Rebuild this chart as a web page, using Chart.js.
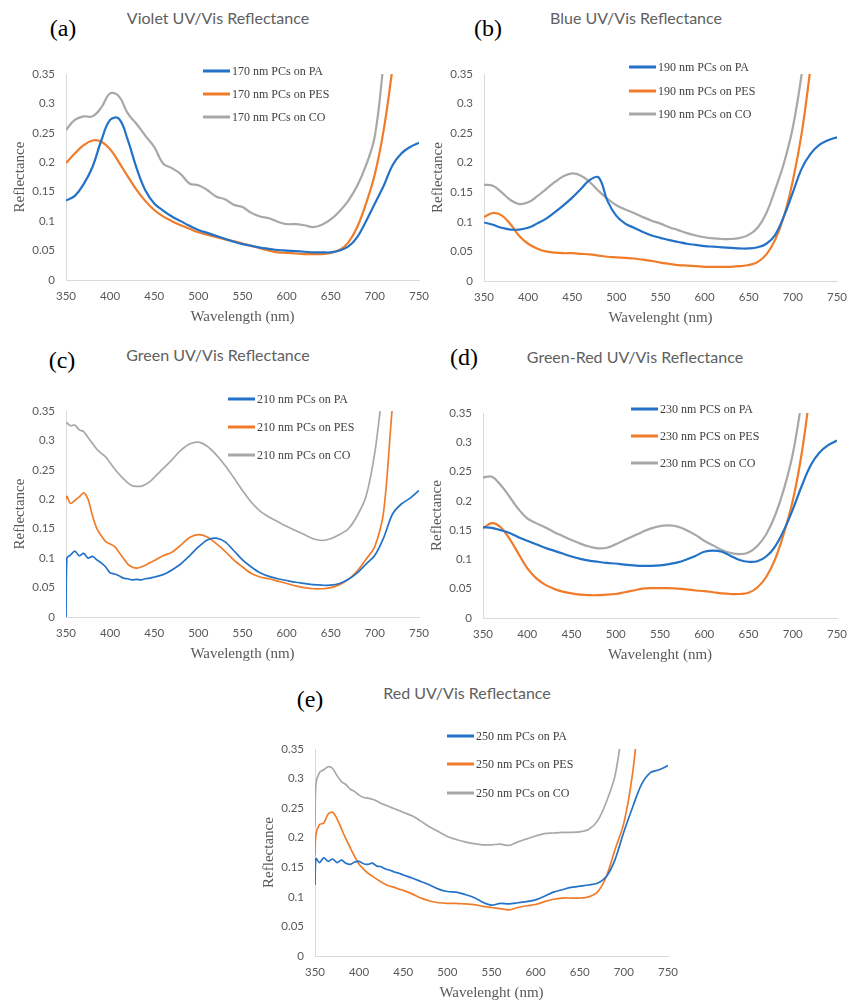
<!DOCTYPE html>
<html>
<head>
<meta charset="utf-8">
<script src="https://cdn.jsdelivr.net/npm/chart.js@4/dist/chart.umd.min.js"></script>
<style>
body { margin: 0; background: #fff; width: 847px; height: 1000px; position: relative; overflow: hidden; }
.title { position: absolute; transform: translate(-50%, -50%); font-family: Lato, sans-serif; font-size: 16px; color: #606060; white-space: nowrap; }
.tag { position: absolute; transform: translate(-50%, -50%); font-family: "Liberation Serif", serif; font-size: 24px; color: #000; }
.leg { position: absolute; transform: translateY(-50%); display: flex; align-items: center; white-space: nowrap;
       font-family: "Liberation Serif", serif; font-size: 12px; color: #404040; }
.leg i { display: inline-block; width: 27px; height: 3px; margin-right: 2px; }
</style>
</head>
<body>
<script>
// ===== DATA =====
const xTicks = [350, 400, 450, 500, 550, 600, 650, 700, 750];
const yTicks = [0, 0.05, 0.1, 0.15, 0.2, 0.25, 0.3, 0.35];

const wl10 = [350,360,370,380,390,400,410,420,430,440,450,460,470,480,490,500,510,520,530,540,
              550,560,570,580,590,600,610,620,630,640,650,660,670,680,690,700,710,720,730,740,750];
const wlFine = [350,351,355,360,365,370,375,380,385,390,395,400,405,410,415,420,425,430,435,440,445,450,
                460,470,480,490,500,510,520,530,540,550,560,570,580,590,600,610,620,630,640,650,660,670,
                680,690,700,710,720,730,740,750];

// (a) 170 nm
const paA  = [.135,.143,.163,.192,.237,.272,.274,.238,.19,.152,.13,.118,.108,.1,.092,.085,.08,.075,.07,.065,
              .061,.058,.055,.053,.051,.05,.049,.048,.047,.047,.047,.05,.057,.073,.1,.13,.16,.195,.215,.226,.233];
const pesA = [.199,.215,.229,.237,.235,.222,.2,.176,.153,.134,.119,.108,.1,.093,.087,.081,.077,.073,.069,.066,
              .062,.058,.054,.05,.047,.046,.045,.044,.044,.044,.046,.051,.064,.09,.13,.18,.255,.36,.47,.58,.69];
const coA  = [.255,.272,.278,.278,.293,.317,.312,.283,.265,.245,.226,.198,.19,.18,.164,.161,.153,.142,.137,.128,
              .124,.114,.108,.105,.099,.095,.095,.093,.09,.094,.103,.117,.135,.16,.195,.245,.37,.5,.6,.7,.8];

// (b) 190 nm
const paB  = [.099,.095,.09,.087,.087,.09,.097,.105,.116,.128,.141,.156,.171,.175,.135,.11,.097,.09,.083,.077,
              .073,.069,.066,.063,.061,.059,.058,.057,.056,.055,.055,.057,.063,.078,.11,.15,.19,.215,.23,.238,.243];
const pesB = [.108,.115,.111,.096,.076,.063,.055,.05,.048,.047,.047,.046,.045,.043,.041,.04,.039,.038,.036,.034,
              .031,.029,.027,.026,.025,.024,.024,.024,.024,.025,.027,.032,.045,.07,.11,.17,.25,.36,.47,.58,.69];
const coB  = [.163,.161,.15,.137,.13,.133,.143,.155,.167,.177,.182,.178,.167,.152,.139,.128,.121,.115,.108,.102,
              .097,.091,.086,.081,.077,.074,.072,.071,.071,.073,.078,.09,.115,.155,.2,.26,.35,.46,.57,.68,.79];

// (c) 210 nm
const paC  = [0,.1,.105,.112,.104,.108,.1,.103,.097,.092,.085,.075,.073,.07,.066,.065,.063,.064,.063,.065,.066,.068,
              .072,.08,.09,.104,.119,.131,.134,.128,.113,.097,.085,.075,.069,.065,.062,.059,.057,.055,.054,.054,.057,.064,
              .075,.09,.105,.135,.175,.192,.202,.215];
const pesC = [.2,.205,.193,.198,.204,.211,.2,.172,.15,.138,.128,.124,.12,.11,.1,.09,.085,.083,.085,.088,.092,.096,
              .104,.11,.122,.135,.14,.136,.125,.112,.097,.085,.074,.068,.065,.061,.057,.053,.05,.048,.048,.05,.055,.064,
              .078,.098,.12,.18,.36,.5,.62,.74];
const coC  = [.33,.33,.325,.326,.318,.315,.305,.295,.285,.278,.272,.262,.252,.243,.235,.228,.223,.222,.222,.225,.23,.237,
              .252,.267,.283,.294,.297,.29,.276,.258,.237,.215,.195,.18,.17,.162,.154,.147,.14,.133,.13,.133,.14,.15,
              .172,.205,.28,.4,.5,.6,.7,.8];

// (d) 230 nm
const paD  = [.155,.154,.15,.145,.138,.132,.126,.12,.115,.11,.105,.101,.098,.096,.094,.093,.091,.09,.089,.089,
              .09,.092,.095,.1,.106,.113,.115,.113,.106,.099,.096,.097,.105,.122,.15,.185,.225,.26,.282,.295,.303];
const pesD = [.153,.162,.155,.135,.11,.085,.068,.057,.05,.045,.042,.04,.039,.039,.04,.041,.044,.047,.05,.051,
              .051,.051,.05,.049,.047,.046,.044,.042,.041,.041,.043,.052,.07,.1,.145,.2,.28,.39,.5,.6,.7];
const coD  = [.24,.241,.227,.207,.186,.17,.162,.155,.147,.14,.133,.127,.122,.119,.12,.126,.133,.14,.147,.153,
              .157,.158,.156,.15,.142,.132,.124,.116,.111,.109,.112,.123,.143,.175,.22,.28,.37,.47,.57,.67,.77];

// (e) 250 nm
const paE  = [.12,.165,.158,.166,.16,.164,.158,.162,.157,.155,.159,.16,.156,.155,.157,.152,.151,.147,.145,.142,.14,.137,
              .132,.126,.12,.113,.109,.108,.104,.099,.091,.086,.089,.088,.09,.092,.095,.101,.108,.112,.116,.118,.12,.123,
              .134,.163,.21,.252,.29,.31,.315,.322];
const pesE = [.17,.205,.222,.225,.24,.243,.232,.215,.198,.183,.168,.155,.147,.14,.135,.13,.125,.121,.118,.116,.113,.111,
              .105,.098,.093,.09,.089,.089,.088,.087,.084,.082,.08,.078,.082,.085,.087,.092,.096,.098,.098,.098,.1,.108,
              .134,.18,.225,.31,.45,.55,.65,.75];
const coE  = [.22,.29,.31,.315,.32,.317,.305,.295,.29,.282,.278,.272,.268,.267,.265,.262,.258,.255,.252,.249,.246,.243,
              .237,.228,.218,.21,.202,.197,.193,.19,.188,.188,.189,.187,.193,.198,.203,.207,.208,.209,.209,.21,.214,.228,
              .26,.305,.4,.5,.6,.7,.8,.9];

const colors = ["#2372c8", "#f07c2a", "#a8a8a8"];

// ===== LAYOUT =====
const panels = [
    { tag: "(a)", tagPos: [63, 28], title: "Violet UV/Vis Reflectance", titlePos: [218, 17],
      area: [66, 74, 419, 280], xTitle: "Wavelength (nm)", wl: wl10, series: [paA, pesA, coA],
      names: ["170 nm PCs on PA", "170 nm PCs on PES", "170 nm PCs on CO"], legX: 203, legY: [71, 94, 117], lw: 2.2, tension: 0.4 },
    { tag: "(b)", tagPos: [488, 28], title: "Blue UV/Vis Reflectance", titlePos: [636, 17],
      area: [484, 74, 837, 281], xTitle: "Wavelenght (nm)", wl: wl10, series: [paB, pesB, coB],
      names: ["190 nm PCs on PA", "190 nm PCs on PES", "190 nm PCs on CO"], legX: 629, legY: [67, 91, 114], lw: 2.2, tension: 0.4 },
    { tag: "(c)", tagPos: [62, 360], title: "Green UV/Vis Reflectance", titlePos: [218, 354],
      area: [66, 411, 419, 617], xTitle: "Wavelength (nm)", wl: wlFine, series: [paC, pesC, coC],
      names: ["210 nm PCs on PA", "210 nm PCs on PES", "210 nm PCs on CO"], legX: 228, legY: [399, 427, 455], lw: 1.7, tension: 0.3 },
    { tag: "(d)", tagPos: [464, 357], title: "Green-Red UV/Vis Reflectance", titlePos: [635, 356],
      area: [483, 413, 837, 618], xTitle: "Wavelenght (nm)", wl: wl10, series: [paD, pesD, coD],
      names: ["230 nm PCS on PA", "230 nm PCS on PES", "230 nm PCS on CO"], legX: 631, legY: [409, 436, 463], lw: 2.2, tension: 0.4 },
    { tag: "(e)", tagPos: [310, 699], title: "Red UV/Vis Reflectance", titlePos: [467, 692],
      area: [315, 749, 668, 956], xTitle: "Wavelenght (nm)", wl: wlFine, series: [paE, pesE, coE],
      names: ["250 nm PCs on PA", "250 nm PCs on PES", "250 nm PCs on CO"], legX: 447, legY: [736, 764, 793], lw: 1.7, tension: 0.3 }
];

function addText(cls, text, x, y) {
    const d = document.createElement("div");
    d.className = cls;
    d.textContent = text;
    d.style.left = x + "px";
    d.style.top = y + "px";
    document.body.appendChild(d);
    return d;
}

function buildPanel(p) {
    const [L, T, R, B] = p.area;
    const cx = L - 66, cy = T - 30;
    const w = R - cx + 20, h = B - cy + 48;

    const canvas = document.createElement("canvas");
    canvas.width = w;
    canvas.height = h;
    canvas.style.cssText = `position:absolute;left:${cx}px;top:${cy}px;width:${w}px;height:${h}px`;
    document.body.appendChild(canvas);

    const tickFont = { family: "Lato, sans-serif", size: 11.5 };
    const titleFont = { family: "'Liberation Serif', serif", size: 15 };

    const chart = new Chart(canvas.getContext("2d"), {
        type: "line",
        data: {
            datasets: p.series.map((vals, i) => ({
                label: p.names[i],
                data: p.wl.map((x, j) => ({ x: x, y: vals[j] })),
                borderColor: colors[i],
                borderWidth: p.lw,
                pointRadius: 0,
                tension: p.tension,
                fill: false
            }))
        },
        options: {
            responsive: false,
            animation: false,
            devicePixelRatio: 1,
            layout: { padding: { left: 0, top: 30, right: 20, bottom: 0 } },
            plugins: { legend: { display: false }, tooltip: { enabled: false } },
            scales: {
                x: {
                    type: "linear", min: 350, max: 750,
                    afterBuildTicks: s => { s.ticks = xTicks.map(v => ({ value: v })); },
                    afterFit: s => { s.height = 48; },
                    grid: { display: false, drawTicks: false },
                    border: { display: true, color: "#d9d9d9", width: 1 },
                    ticks: { padding: 9, color: "#595959", font: tickFont, maxRotation: 0, autoSkip: false },
                    title: { display: true, text: p.xTitle, color: "#595959", font: titleFont, padding: { top: 0, bottom: 1.5 } }
                },
                y: {
                    min: 0, max: 0.35,
                    afterBuildTicks: s => { s.ticks = yTicks.map(v => ({ value: v })); },
                    afterFit: s => { s.width = 66; },
                    grid: { display: false, drawTicks: false },
                    border: { display: true, color: "#d9d9d9", width: 1 },
                    ticks: { padding: 11, color: "#595959", font: tickFont, callback: v => String(v) },
                    title: { display: true, text: "Reflectance", color: "#595959", font: titleFont, padding: { top: 11, bottom: 0 } }
                }
            }
        }
    });

    // ===== TITLES / LEGEND =====
    addText("title", p.title, p.titlePos[0], p.titlePos[1]);
    addText("tag", p.tag, p.tagPos[0], p.tagPos[1]);

    chart.data.datasets.forEach((ds, i) => {
        const row = addText("leg", "", p.legX, p.legY[i]);
        const sw = document.createElement("i");
        sw.style.background = ds.borderColor;
        row.appendChild(sw);
        row.appendChild(document.createTextNode(ds.label));
    });
}

panels.forEach(buildPanel);
</script>
</body>
</html>
